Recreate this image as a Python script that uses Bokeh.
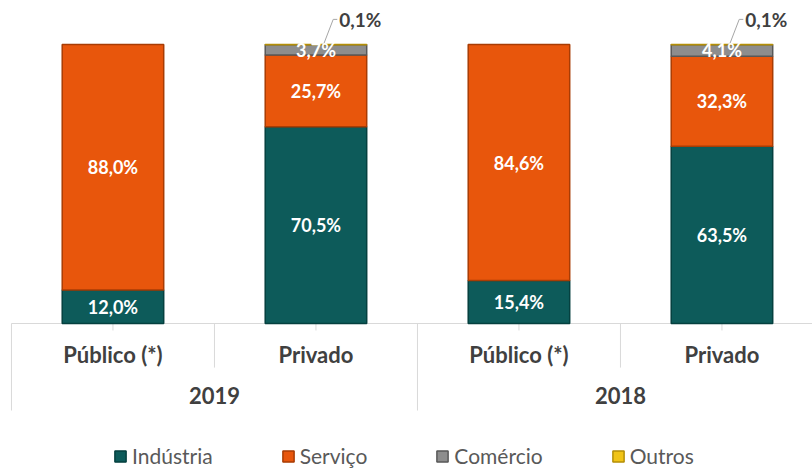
from bokeh.plotting import figure
from bokeh.models import ColumnDataSource, Range1d, Legend, LegendItem
from bokeh.core.properties import value
from bokeh.embed import file_html
from bokeh.resources import INLINE

# ---- data ----
group_of_bar = ["2019", "2019", "2018", "2018"]
subcats = ["Público (*)", "Privado", "Público (*)", "Privado"]
group_labels = ["2019", "2018"]
series = ["Indústria", "Serviço", "Comércio", "Outros"]
industria = [12.0, 70.5, 15.4, 63.5]
servico = [88.0, 25.7, 84.6, 32.3]
comercio = [0.0, 3.7, 0.0, 4.1]
outros = [0.0, 0.1, 0.0, 0.1]

colors = ["#0d5b5a", "#e8560c", "#8d8d8d", "#f1c416"]
outlines = ["#05403f", "#a83c04", "#585858", "#b48f08"]
FONT = "Lato"
TXT = "#404040"

values = [industria, servico, comercio, outros]
xs = [i + 0.5 for i in range(len(subcats))]
n = len(subcats)

p = figure(width=812, height=471, output_backend="svg", toolbar_location=None,
           x_range=Range1d(-0.054, 3.946), y_range=Range1d(-53.05, 115.77),
           x_axis_type=None, y_axis_type=None,
           min_border_left=0, min_border_right=0, min_border_top=0, min_border_bottom=0)
p.outline_line_color = None
p.grid.visible = False
p.background_fill_color = "white"

# category axis line, ticks and separators (drawn in data space below zero)
p.segment(x0=[0], y0=[0], x1=[3.946], y1=[0], line_color="#d9d9d9", line_width=1)
p.segment(x0=xs, y0=[0] * n, x1=xs, y1=[-2.5] * n, line_color="#d9d9d9", line_width=1)
sub_sep = [1, 3]
p.segment(x0=sub_sep, y0=[0] * 2, x1=sub_sep, y1=[-15.8] * 2, line_color="#d9d9d9", line_width=1)
grp_sep = [0, 2]
p.segment(x0=grp_sep, y0=[0] * 2, x1=grp_sep, y1=[-31.2] * 2, line_color="#d9d9d9", line_width=1)

p.text(x=xs, y=[-11.0] * n, text=subcats, text_align="center", text_baseline="middle",
       text_font=value(FONT), text_font_style="bold", text_font_size="22px", text_color=TXT)
gx = [1.0, 3.0]
p.text(x=gx, y=[-25.8] * 2, text=group_labels, text_align="center", text_baseline="middle",
       text_font=value(FONT), text_font_style="bold", text_font_size="22px", text_color=TXT)

# stacked bars
bottoms = [0.0] * n
items = []
inner_x, inner_y, inner_t = [], [], []
outer = []
for name, vals, c, lc in zip(series, values, colors, outlines):
    tops = [b + v for b, v in zip(bottoms, vals)]
    src = ColumnDataSource(dict(x=xs, bottom=bottoms, top=tops,
                                la=[1.0 if v > 0 else 0.0 for v in vals],
                                fa=[1.0 if v > 0 else 0.0 for v in vals]))
    r = p.vbar(x="x", width=0.5, bottom="bottom", top="top", source=src,
               fill_color=c, fill_alpha="fa", line_color=lc, line_width=1.5, line_alpha="la")
    idx = next(i for i, v in enumerate(vals) if v > 0)
    items.append(LegendItem(label=name, renderers=[r], index=idx))
    for i, v in enumerate(vals):
        lbl = f"{v:.1f}".replace(".", ",") + "%"
        if v >= 1:
            inner_x.append(xs[i]); inner_y.append((bottoms[i] + tops[i]) / 2); inner_t.append(lbl)
        elif v > 0:
            outer.append((xs[i], tops[i], lbl))
    bottoms = tops

p.text(x=inner_x, y=inner_y, text=inner_t, text_align="center", text_baseline="middle",
       text_font=value(FONT), text_font_style="bold", text_font_size="18px", text_color="white")

# outer labels with leader lines
for (x, t, lbl) in outer:
    p.line(x=[x + 0.04, x + 0.085, x + 0.105], y=[t + 0.5, t + 9, t + 9],
           line_color="#a6a6a6", line_width=1)
    p.text(x=[x + 0.115], y=[t + 9], text=[lbl], text_align="left", text_baseline="middle",
           text_font=value(FONT), text_font_style="bold", text_font_size="19px", text_color=TXT)

legend = Legend(items=items, orientation="horizontal", location=(113, 3),
                glyph_width=14, glyph_height=14, label_standoff=5, spacing=68,
                padding=0, margin=0, border_line_color=None, background_fill_alpha=0,
                label_text_font=FONT, label_text_font_size="21px", label_text_color="#595959")
p.add_layout(legend, "center")

open("out.html", "w").write(file_html(p, INLINE))
